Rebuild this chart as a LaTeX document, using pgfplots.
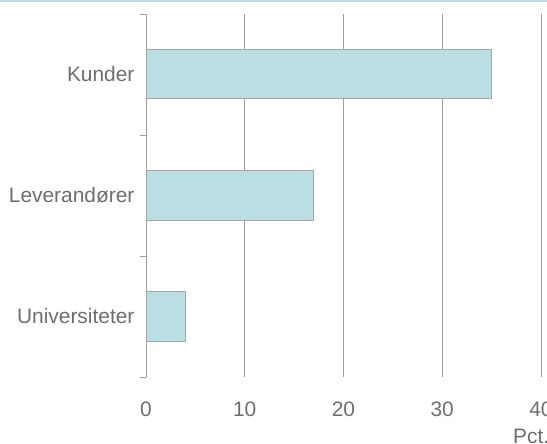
\documentclass[border=0pt]{standalone}
\usepackage{pgfplots}
\pgfplotsset{compat=1.18}
\usepackage{fontspec}
\setmainfont{Liberation Sans}
\definecolor{barfill}{HTML}{B9DFE2}
\definecolor{barline}{HTML}{A6A6A6}
\definecolor{gridc}{HTML}{A0A0A0}
\definecolor{txt}{HTML}{6E6E6E}
\definecolor{topline}{HTML}{C2DCF6}
\begin{document}
\begin{tikzpicture}
\clip (0,0) rectangle (547bp,444bp);
\fill[topline] (0,441.5bp) rectangle (547bp,444bp);
\begin{axis}[
  at={(146bp,67bp)}, anchor=south west,
  width=395bp, height=363bp, scale only axis,
  xmin=0, xmax=40, ymin=-0.5, ymax=2.5,
  xbar, bar width=49bp,
  xtick={0,10,20,30,40},
  ytick={0,1,2}, yticklabels={Universiteter,Leverandører,Kunder},
  minor ytick={-0.5,0.5,1.5,2.5},
  xmajorgrids, major grid style={gridc, line width=0.8bp},
  axis lines*=left,
  x axis line style={draw=none},
  y axis line style={gridc, line width=0.8bp, -},
  major tick length=0pt, minor tick length=6bp,
  tick align=outside,
  minor tick style={gridc, line width=0.8bp},
  ticklabel style={font=\fontsize{21}{24}\selectfont, text=txt},
  /pgf/number format/assume math mode=true,
  xticklabel style={yshift=-21bp},
  yticklabel style={xshift=-8bp},
  clip=false,
]
\addplot[fill=barfill, draw=barline, line width=1bp] coordinates {(4,0) (17,1) (35,2)};
\end{axis}
\node[anchor=base west, inner sep=0pt, font=\fontsize{21}{24}\selectfont, text=txt] at (513bp, 1bp) {Pct.};
\end{tikzpicture}
\end{document}
